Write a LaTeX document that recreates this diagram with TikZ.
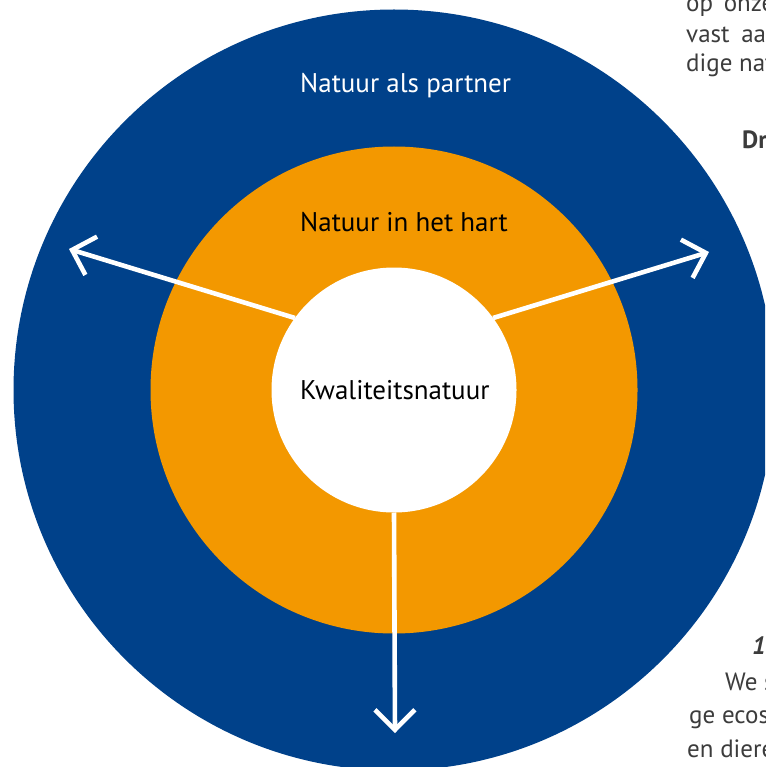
\documentclass[tikz,border=0pt]{standalone}
\usepackage{fontspec}
\setmainfont{PT Sans}
\usetikzlibrary{arrows.meta}
\definecolor{natblue}{RGB}{0,65,138}
\definecolor{natorange}{RGB}{243,152,0}
\definecolor{pagegray}{RGB}{60,60,60}
\begin{document}
\begin{tikzpicture}[x=1pt,y=-1pt,
  ring/.style={circle,inner sep=0pt,outer sep=0pt},
  lbl/.style={anchor=base west,inner sep=0pt,font=\fontsize{27}{32}\selectfont},
  pagetxt/.style={anchor=base west,inner sep=0pt,text=pagegray,font=\fontsize{25}{28}\selectfont},
  outarrow/.style={draw=white,line width=4.6pt,-{Straight Barb[length=20pt,width=40pt]}}]
\useasboundingbox (0,0) rectangle (765,767);
\clip (0,0) rectangle (765,767);
\fill[white] (0,0) rectangle (765,767);
% page text fragments
\node[pagetxt] (p1) at (686,12) {op\hspace{4pt} onze};
\node[pagetxt] (p2) at (686,43) {vast\hspace{5pt} aan};
\node[pagetxt] (p3) at (686,72) {dige nat};
\node[pagetxt,font=\fontsize{25}{28}\selectfont\bfseries] (p4) at (742,149) {Dr};
\node[pagetxt,font=\fontsize{25}{28}\selectfont\bfseries\itshape] (p5) at (752,654) {1.};
\node[pagetxt] (p6) at (725,690) {We s};
\node[pagetxt] (p7) at (689,723) {ge ecos};
\node[pagetxt] (p8) at (687,757) {en diere};
% rings
\node[ring,fill=natblue,minimum size=761pt] (outer) at (394,390) {};
\node[ring,fill=natorange,minimum size=487pt] (mid) at (394,390) {};
\node[ring,fill=white,minimum size=245pt] (inner) at (394,390) {};
% labels
\node[lbl,text=white] (l1) at (300,93) {Natuur als partner};
\node[lbl,text=black] (l2) at (300,231) {Natuur in het hart};
\node[lbl,text=black] (l3) at (300,399) {Kwaliteitsnatuur};
% arrows
\coordinate (tipL) at (69,249);
\coordinate (tipR) at (709,252);
\coordinate (tipD) at (395,733);
\draw[outarrow] (inner.144) -- (tipL);
\draw[outarrow] (inner.36) -- (tipR);
\draw[outarrow] (inner.south) -- (tipD);
\end{tikzpicture}
\end{document}
